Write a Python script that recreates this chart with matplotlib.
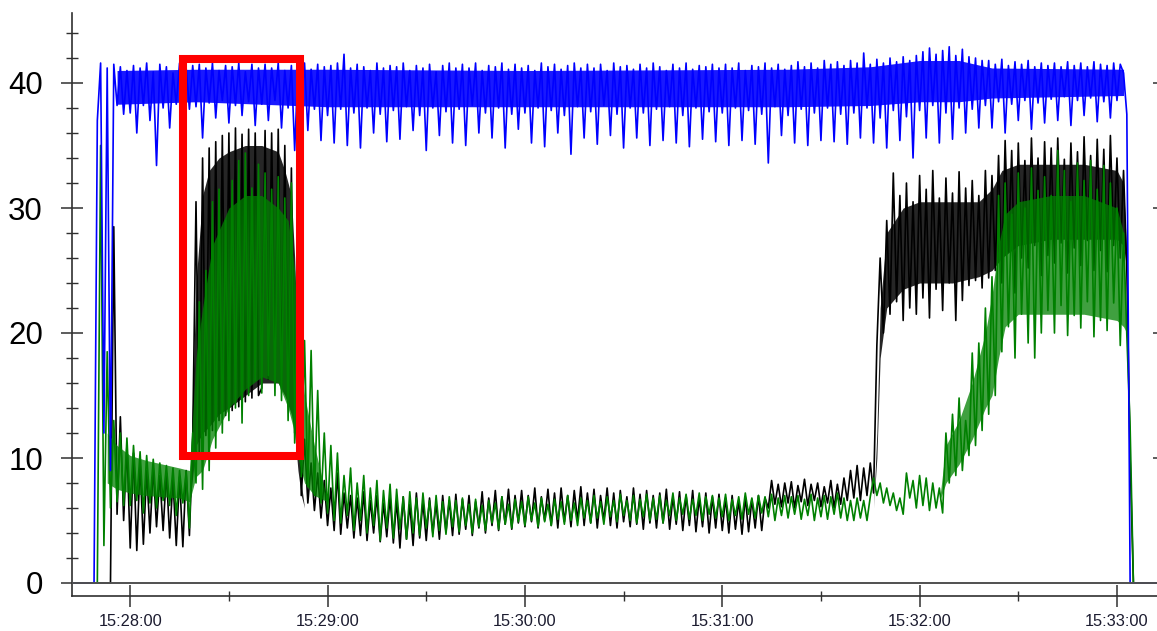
import numpy as np
import matplotlib
matplotlib.use("Agg")
import matplotlib.pyplot as plt
from matplotlib.patches import Rectangle
from matplotlib.ticker import FixedLocator, MultipleLocator

plt.rcParams['font.family'] = ['Liberation Sans', 'DejaVu Sans']

# time base: seconds relative to 15:28:00, one sample per second
T_START = -18
STEP = 1.0

blue_vals = [
    0, 0, 0, 0, 0, 0, 0, 0, 37, 41.6, 12, 41.2, 9, 41.5, 38.2, 41.3, 37.5, 41.0,
    37.6, 41.4, 36.0, 41.2, 38.2, 41.6, 37.0, 40.9, 33.4, 41.5, 38.0, 41.3, 36.4, 40.8, 38.3, 41.6, 35.8, 41.2, 37.9, 41.4,
    38.1, 41.5, 35.6, 41.2, 38.4, 41.6, 37.2, 41.0, 38.6, 41.4, 36.8, 41.3, 38.2, 41.6, 37.4, 40.9, 38.5, 41.5, 36.6, 41.2,
    38.3, 41.5, 37.0, 41.2, 38.6, 41.6, 36.4, 41.0, 38.0, 41.4, 34.6, 41.2, 38.2, 41.6, 36.2, 41.1, 37.9, 41.5, 35.4, 41.3,
    37.4, 41.4, 35.2, 41.6, 37.9, 42.3, 35.0, 41.2, 37.6, 41.5, 34.8, 41.3, 38.0, 41.0, 36.0, 41.6, 37.5, 41.2, 35.3, 41.4,
    37.8, 41.3, 35.5, 41.6, 38.1, 41.0, 36.2, 41.4, 37.4, 41.2, 34.6, 41.5, 38.0, 40.9, 35.8, 41.4, 37.7, 41.6, 35.2, 41.2,
    37.9, 41.5, 35.0, 41.2, 38.2, 41.6, 36.0, 41.0, 37.6, 41.4, 35.6, 41.3, 38.0, 41.6, 34.8, 41.1, 37.5, 41.5, 36.3, 41.2,
    37.6, 41.4, 35.2, 41.0, 38.0, 41.6, 34.9, 41.3, 37.8, 41.5, 36.0, 41.1, 37.4, 41.4, 34.3, 41.6, 38.1, 41.2, 35.6, 41.5,
    37.7, 41.2, 35.1, 41.5, 38.2, 41.0, 35.8, 41.6, 37.5, 41.3, 34.8, 41.4, 38.0, 41.1, 35.6, 41.5, 37.6, 41.2, 35.0, 41.6,
    37.9, 41.3, 35.4, 41.0, 38.1, 41.5, 35.2, 41.2, 37.4, 41.6, 34.9, 41.1, 38.0, 41.4, 35.5, 41.3, 37.7, 41.5, 35.3, 41.2,
    37.6, 41.5, 35.0, 41.2, 38.0, 41.6, 35.4, 41.0, 37.8, 41.4, 35.1, 41.3, 37.5, 41.6, 33.6, 41.2, 38.1, 41.5, 35.8, 41.1,
    37.4, 41.4, 35.2, 41.7, 37.9, 41.3, 35.0, 41.6, 37.6, 41.2, 35.4, 41.8, 38.0, 41.5, 35.3, 41.7, 37.5, 41.4, 35.1, 41.8,
    37.6, 41.6, 35.6, 42.4, 38.0, 41.5, 35.2, 41.9, 37.2, 41.6, 34.8, 42.0, 37.8, 41.7, 35.4, 42.1, 37.3, 41.8, 34.0, 42.2,
    37.8, 42.5, 35.6, 42.8, 38.2, 42.3, 35.2, 42.6, 37.6, 42.9, 35.5, 42.2, 38.0, 42.7, 36.0, 42.1, 37.9, 42.0, 36.4, 41.8,
    38.2, 41.8, 36.4, 41.5, 38.5, 41.9, 36.0, 41.4, 38.3, 41.7, 37.0, 41.5, 38.6, 41.8, 36.3, 41.3, 38.4, 41.6, 36.8, 41.4,
    38.7, 41.6, 37.0, 41.3, 38.9, 41.7, 36.6, 41.4, 38.6, 41.6, 37.4, 41.3, 38.8, 41.7, 36.9, 41.5, 38.5, 41.4, 37.2, 41.6,
    38.6, 41.5, 40.8, 37.5, 0, 0, 0, 0, 0, 0, 0, 0, 0,
]

black_vals = [
    0, 0, 0, 0, 0, 0, 0, 0, 0, 0, 0, 0, 0, 28.5, 5.5, 13.3, 5.0, 11.0,
    2.8, 10.4, 2.6, 9.6, 3.1, 9.0, 4.0, 9.2, 4.5, 8.6, 4.2, 8.8, 3.6, 8.3, 3.0, 8.5, 2.9, 9.0, 3.8, 11.5,
    30.5, 10.0, 34.0, 11.8, 34.8, 12.2, 35.3, 13.0, 35.8, 13.4, 36.0, 13.8, 36.4, 14.1, 35.9, 14.5, 36.3, 14.8, 36.0, 15.0,
    15.6, 36.2, 16.3, 36.0, 16.0, 36.3, 15.5, 35.0, 14.4, 33.2, 12.0, 24.0, 7.0, 11.5, 6.4, 9.6, 5.8, 8.8, 5.2, 8.2,
    4.6, 7.6, 4.2, 8.8, 3.9, 7.2, 4.4, 7.0, 3.6, 6.8, 3.8, 7.3, 3.4, 6.6, 4.0, 7.0, 3.3, 6.4, 3.7, 6.9,
    3.2, 6.6, 2.8, 6.9, 3.5, 6.3, 3.0, 7.2, 3.6, 6.5, 3.4, 6.8, 4.0, 6.4, 3.5, 7.0, 4.1, 6.6, 3.8, 7.1,
    3.9, 6.7, 4.3, 7.0, 3.8, 6.5, 4.4, 7.3, 4.0, 6.8, 4.6, 7.4, 4.2, 6.9, 4.7, 7.5, 4.3, 7.0, 4.8, 7.4,
    4.5, 7.0, 4.9, 7.6, 4.4, 6.9, 5.0, 7.5, 4.6, 7.2, 4.4, 7.6, 4.9, 7.0, 4.5, 7.4, 5.0, 7.7, 4.6, 7.2,
    4.8, 7.5, 4.4, 7.0, 5.0, 7.6, 4.6, 7.2, 4.4, 7.4, 4.9, 6.9, 4.5, 7.6, 4.7, 7.1, 4.3, 7.4, 4.8, 7.0,
    4.4, 7.2, 4.8, 7.5, 4.3, 6.9, 4.7, 7.3, 4.2, 7.0, 4.6, 7.4, 4.1, 6.8, 4.5, 7.2, 4.0, 6.9, 4.4, 7.1,
    4.2, 6.8, 4.0, 7.0, 4.3, 6.6, 3.9, 6.9, 4.1, 6.7, 4.4, 7.0, 4.2, 6.8, 6.0, 8.2, 6.3, 7.9, 6.1, 8.0,
    6.4, 8.1, 6.0, 7.8, 6.5, 8.3, 6.2, 7.9, 6.6, 8.0, 6.1, 7.7, 6.4, 8.2, 6.0, 7.9, 6.3, 8.4, 6.6, 9.0,
    6.8, 9.4, 6.6, 9.2, 7.0, 9.6, 7.2, 19.0, 26.0, 20.0, 29.0, 21.5, 32.8, 22.5, 31.0, 21.0, 32.0, 22.0, 30.5, 21.5,
    32.6, 22.8, 31.5, 21.2, 33.0, 23.5, 30.8, 21.8, 32.4, 24.0, 31.2, 21.0, 32.9, 22.6, 31.6, 23.8, 32.2, 24.2, 31.0, 23.6,
    33.0, 24.4, 32.6, 25.0, 34.2, 24.0, 35.4, 26.5, 34.6, 23.2, 35.2, 26.0, 33.8, 25.2, 35.6, 27.0, 34.0, 24.6, 35.3, 26.2,
    34.8, 25.6, 35.6, 27.2, 33.9, 24.8, 35.2, 26.8, 34.5, 25.4, 35.7, 27.4, 34.2, 25.0, 35.5, 26.6, 34.7, 24.9, 35.8, 27.0,
    34.0, 26.0, 33.0, 25.0, 10.0, 0, 0, 0, 0, 0, 0, 0, 0,
]

green_vals = [
    0, 0, 0, 0, 0, 0, 0, 0, 0, 35.0, 3.0, 18.5, 6.0, 13.0, 6.5, 12.0, 6.2, 11.6,
    6.2, 11.0, 6.6, 10.5, 5.6, 10.2, 6.4, 9.9, 6.0, 9.6, 6.6, 9.4, 6.2, 9.2, 5.4, 9.0, 6.4, 8.9, 4.4, 12.0,
    8.0, 22.5, 7.5, 25.0, 9.0, 30.5, 10.8, 31.5, 12.0, 29.0, 13.0, 32.2, 14.0, 33.8, 12.8, 34.4, 15.0, 31.6, 16.2, 33.5,
    15.2, 32.8, 16.6, 31.5, 15.0, 32.5, 14.6, 30.8, 13.0, 32.0, 11.2, 29.0, 8.5, 19.4, 7.7, 18.6, 7.0, 15.4, 6.4, 12.0,
    5.6, 11.0, 5.0, 10.4, 4.8, 8.6, 5.4, 9.2, 4.2, 8.0, 5.0, 8.6, 4.0, 7.6, 4.6, 8.2, 3.4, 7.4, 4.4, 7.9,
    3.6, 7.5, 4.3, 6.9, 3.5, 7.3, 4.0, 6.8, 3.8, 7.2, 4.4, 6.6, 3.7, 7.0, 4.2, 6.5, 3.9, 6.9, 4.5, 6.6,
    4.1, 6.8, 4.6, 6.3, 4.0, 6.7, 4.5, 6.2, 4.2, 6.6, 4.8, 6.4, 4.3, 6.9, 4.7, 6.3, 4.4, 6.7, 4.9, 6.5,
    4.6, 6.9, 5.0, 6.4, 4.5, 6.8, 4.9, 6.3, 4.6, 6.7, 5.1, 6.5, 4.7, 7.0, 5.0, 6.4, 4.6, 6.8, 5.2, 6.6,
    4.8, 7.0, 5.2, 6.5, 4.7, 6.9, 5.3, 6.6, 4.9, 7.1, 5.4, 6.6, 5.0, 7.0, 4.8, 6.7, 5.3, 7.1, 5.0, 6.8,
    5.1, 7.0, 4.8, 6.6, 5.4, 7.2, 5.0, 6.8, 5.5, 7.1, 5.1, 6.7, 5.4, 7.2, 5.0, 6.9, 5.5, 7.0, 5.2, 6.8,
    5.3, 7.1, 5.0, 6.7, 5.4, 6.9, 5.1, 7.2, 5.5, 6.8, 5.2, 7.0, 5.6, 6.9, 5.3, 7.1, 5.0, 6.8, 5.4, 7.0,
    5.2, 6.9, 5.5, 7.0, 5.1, 6.7, 5.4, 7.1, 5.0, 6.8, 5.3, 7.0, 5.1, 6.9, 5.5, 7.2, 5.2, 6.8, 5.0, 6.6,
    5.0, 6.8, 5.2, 6.6, 5.0, 6.9, 8.4, 7.0, 8.0, 6.4, 7.6, 6.2, 7.2, 5.8, 6.8, 5.5, 8.8, 6.8, 8.2, 6.0,
    8.6, 6.2, 8.4, 5.8, 8.0, 6.0, 7.6, 5.6, 12.0, 8.0, 13.5, 8.6, 14.8, 9.0, 13.0, 10.2, 18.4, 11.0, 19.2, 12.2,
    22.0, 13.5, 24.5, 15.0, 31.0, 18.5, 32.0, 20.5, 29.5, 18.0, 32.8, 21.5, 30.0, 19.2, 33.2, 18.0, 31.4, 20.0, 32.5, 21.8,
    31.0, 20.0, 34.6, 22.2, 33.0, 19.8, 30.5, 21.4, 33.6, 20.4, 32.2, 22.5, 33.8, 19.7, 31.5, 21.0, 33.4, 20.2, 32.0, 22.4,
    30.0, 19.0, 28.0, 19.8, 12.5, 0, 0, 0, 0, 0, 0, 0, 0,
]

# dense core of each trace (where the recorder output is nearly solid)
blue_core_t = [-4, 20, 60, 120, 200, 225, 240, 252, 262, 302]
blue_core_lo = [38.3, 38.5, 38.1, 38.1, 38.1, 38.2, 38.5, 38.5, 38.8, 39.0]
blue_core_hi = [41.0, 41.1, 41.1, 41.0, 41.1, 41.3, 41.8, 41.8, 41.2, 41.1]

black_core_t = [18, 20, 22, 24, 27, 30, 35, 40, 45, 47, 49, 50, 51, 52, 53,
                226, 227, 228, 230, 235, 240, 250, 258, 262, 265, 270, 280, 290, 300, 302, 303]
black_core_lo = [6, 11, 12, 12.5, 13.5, 14, 15, 16, 16, 15, 13.5, 12, 9, 7, 6,
                 6, 10, 18, 22, 23.5, 24, 24, 24.5, 25, 26, 27, 27.5, 27.5, 27.5, 27, 25]
black_core_hi = [6, 24, 31, 33, 34, 34.5, 35, 35, 34.5, 33, 31, 26, 18, 8, 6,
                 6, 12, 22, 28, 30, 30.5, 30.5, 30.5, 31.5, 33, 33.5, 33.5, 33.5, 33, 32, 26]

green_core_t = [-7, -4, 0, 5, 10, 15, 18, 20, 22, 25, 30, 35, 40, 45, 48, 50, 51, 53, 56, 60,
                246, 248, 252, 256, 260, 262, 264, 266, 270, 280, 290, 300, 302, 303]
green_core_lo = [8, 7.5, 7.2, 7, 6.9, 6.8, 6.5, 8.5, 9, 11.5, 14, 15.5, 16.5, 16, 14, 12, 10, 8, 7, 6.5,
                 6.5, 8, 9.5, 11.5, 14, 15, 18, 20.5, 21.5, 21.5, 21.5, 21, 20.5, 20]
green_core_hi = [12, 11, 10.2, 9.8, 9.5, 9.2, 9, 18, 22, 27, 30, 31, 31, 30, 29, 25, 20, 15, 11, 6.5,
                 6.5, 11, 13, 16, 20, 23, 27, 29.5, 30.5, 31, 31, 30, 28, 20]

x_tick_seconds = [0, 60, 120, 180, 240, 300]
x_tick_labels = ["15:28:00", "15:29:00", "15:30:00", "15:31:00", "15:32:00", "15:33:00"]
x_minor_seconds = [30, 90, 150, 210, 270]
y_ticks = [0, 10, 20, 30, 40]
y_tick_labels = ["0", "10", "20", "30", "40"]

# highlighted region (seconds, value)
box_t = [15.9, 51.7]
box_v = [10.2, 41.9]


def times(vals):
    return T_START + STEP * np.arange(len(vals))


W, H = 1157, 631
fig = plt.figure(figsize=(W / 100, H / 100), dpi=100)
ax = fig.add_axes([72 / W, (H - 596) / H, (1164 - 72) / W, (596 - 13) / H])

LW = 1.2
ax.fill_between(black_core_t, black_core_lo, black_core_hi, color='#000000', alpha=0.85, lw=0, zorder=1.9)
ax.plot(times(black_vals), black_vals, color='#000000', lw=LW, zorder=2)
ax.fill_between(green_core_t, green_core_lo, green_core_hi, color='#008000', alpha=0.75, lw=0, zorder=2.9)
ax.plot(times(green_vals), green_vals, color='#008000', lw=LW, zorder=3)
ax.fill_between(blue_core_t, blue_core_lo, blue_core_hi, color='#0000ff', alpha=0.9, lw=0, zorder=3.9)
ax.plot(times(blue_vals), blue_vals, color='#0000ff', lw=LW, zorder=4)
ax.axhline(0, color='#505050', lw=1.4, zorder=5)

ax.add_patch(Rectangle((box_t[0], box_v[0]), box_t[1] - box_t[0], box_v[1] - box_v[0],
                       fill=False, edgecolor='#ff0000', lw=5.8, zorder=6))

ax.set_xlim(-17.7, 314.3)
ax.set_ylim(-1.04, 45.6)

ax.set_xticks(x_tick_seconds)
ax.set_xticklabels(x_tick_labels)
ax.xaxis.set_minor_locator(FixedLocator(x_minor_seconds))
ax.set_yticks(y_ticks)
ax.set_yticklabels(y_tick_labels)
ax.yaxis.set_minor_locator(MultipleLocator(2))

ax.tick_params(axis='y', which='major', direction='inout', length=15.8, width=1.1,
               color='#303030', labelsize=22.5, pad=13, left=True, right=True,
               labelright=False, labelcolor='#000000')
ax.tick_params(axis='y', which='minor', direction='inout', length=8.6, width=1.0,
               color='#303030', left=True, right=False)
ax.tick_params(axis='x', which='major', direction='inout', length=15.8, width=1.1,
               color='#303030', labelsize=11.8, pad=5, labelcolor='#1c1c30')
ax.tick_params(axis='x', which='minor', direction='inout', length=7.2, width=1.0,
               color='#303030')

for s in ('top', 'right'):
    ax.spines[s].set_visible(False)
for s in ('left', 'bottom'):
    ax.spines[s].set_color('#303030')
    ax.spines[s].set_linewidth(1.2)

fig.savefig('out.png', dpi=100)
